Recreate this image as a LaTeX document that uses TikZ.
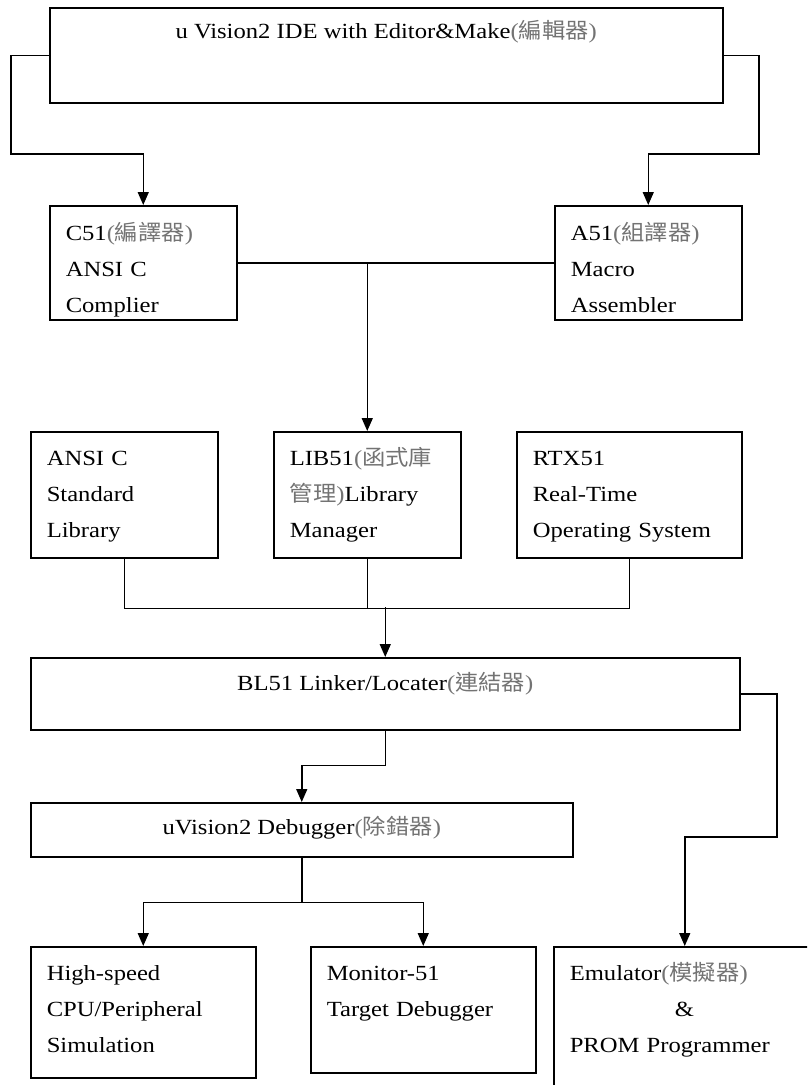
\documentclass[tikz,border=0pt]{standalone}
\usepackage{fontspec}
\setmainfont{Liberation Serif}[FakeStretch=1.14]
\newfontfamily\cjk{Noto Sans CJK TC}[FakeStretch=1.08]
\usetikzlibrary{arrows.meta}

\definecolor{zhgray}{gray}{0.45}
\newcommand{\zhtxt}[1]{{\color{zhgray}\cjk #1}}
\newcommand{\zhparen}[1]{{\color{zhgray}(}\zhtxt{#1}{\color{zhgray})}}

\tikzset{
    box/.style={draw, line width=1.5pt, inner sep=0pt, anchor=north west,
        font=\fontsize{21.6}{36}\selectfont},
    listbox/.style={box, inner xsep=16pt, align=left},
    link/.style={line width=1.5pt},
    flow/.style={link, -{Triangle[width=11pt,length=13pt]}}
}

\begin{document}
\begin{tikzpicture}[x=1pt, y=-1pt]
    \useasboundingbox (0,0) rectangle (807,1085);
    \clip (0,0) rectangle (807,1085);

    % IDE Block
    \node[box, minimum width=673pt, text height=31pt, text depth=64pt] (ide) at (49,7)
        {u Vision2 IDE with Editor\&Make\zhparen{編輯器}};

    % Compiler and Assembler
    \node[listbox, text width=155pt, text height=35pt, text depth=79pt] (c51) at (49,205)
        {C51\zhparen{編譯器}\\ANSI C\\Complier};
    \node[listbox, text width=155pt, text height=35pt, text depth=79pt] (a51) at (554,205)
        {A51\zhparen{組譯器}\\Macro\\Assembler};

    % Libraries
    \node[listbox, text width=155pt, text height=34pt, text depth=92pt] (stdlib) at (30,431)
        {ANSI C\\Standard\\Library};
    \node[listbox, text width=155pt, text height=34pt, text depth=92pt] (libmgr) at (273,431)
        {LIB51{\color{zhgray}(}\zhtxt{函式庫}\\\zhtxt{管理}{\color{zhgray})}Library\\Manager};
    \node[listbox, text width=193pt, text height=34pt, text depth=92pt] (rtx) at (516,431)
        {RTX51\\Real-Time\\Operating System};

    % Linker
    \node[box, minimum width=709pt, text height=33pt, text depth=39pt] (linker) at (30,657)
        {BL51 Linker/Locater\zhparen{連結器}};

    % Debugger
    \node[box, minimum width=542pt, text height=32pt, text depth=22pt] (debugger) at (30,802)
        {uVision2 Debugger\zhparen{除錯器}};

    % Targets
    \node[listbox, text width=193pt, text height=34pt, text depth=97pt] (sim) at (30,946)
        {High-speed\\CPU/Peripheral\\Simulation};
    \node[listbox, text width=193pt, text height=34pt, text depth=92pt] (monitor) at (310,946)
        {Monitor-51\\Target Debugger};
    \node[listbox, text width=230pt, text height=34pt, text depth=130pt] (emulator) at (553,946)
        {Emulator\zhparen{模擬器}\\\hspace*{105pt}\&\\PROM Programmer};

    % Arrows
    \draw[flow] (ide.west) -| (11,154) -| (c51.north);
    \draw[flow] (ide.east) -| (759,154) -| (a51.north);
    \draw[link] (c51.east) -- (a51.west);
    \draw[flow] (c51.east -| libmgr.north) -- (libmgr.north);
    \draw[link] (stdlib.south) -- ++(0,50) -| (rtx.south);
    \draw[link] (libmgr.south) -- ++(0,50);
    \draw[flow] ([yshift=50pt]linker.north) -- (linker.north);
    \draw[flow] (linker.east) -| (777,837) -| (emulator.north);
    \draw[flow] (linker.south) -- ++(0,35) -| (debugger.north);
    \draw[flow] (debugger.south) -- ++(0,45) -| (sim.north);
    \draw[flow] (debugger.south) -- ++(0,45) -| (monitor.north);
\end{tikzpicture}
\end{document}
